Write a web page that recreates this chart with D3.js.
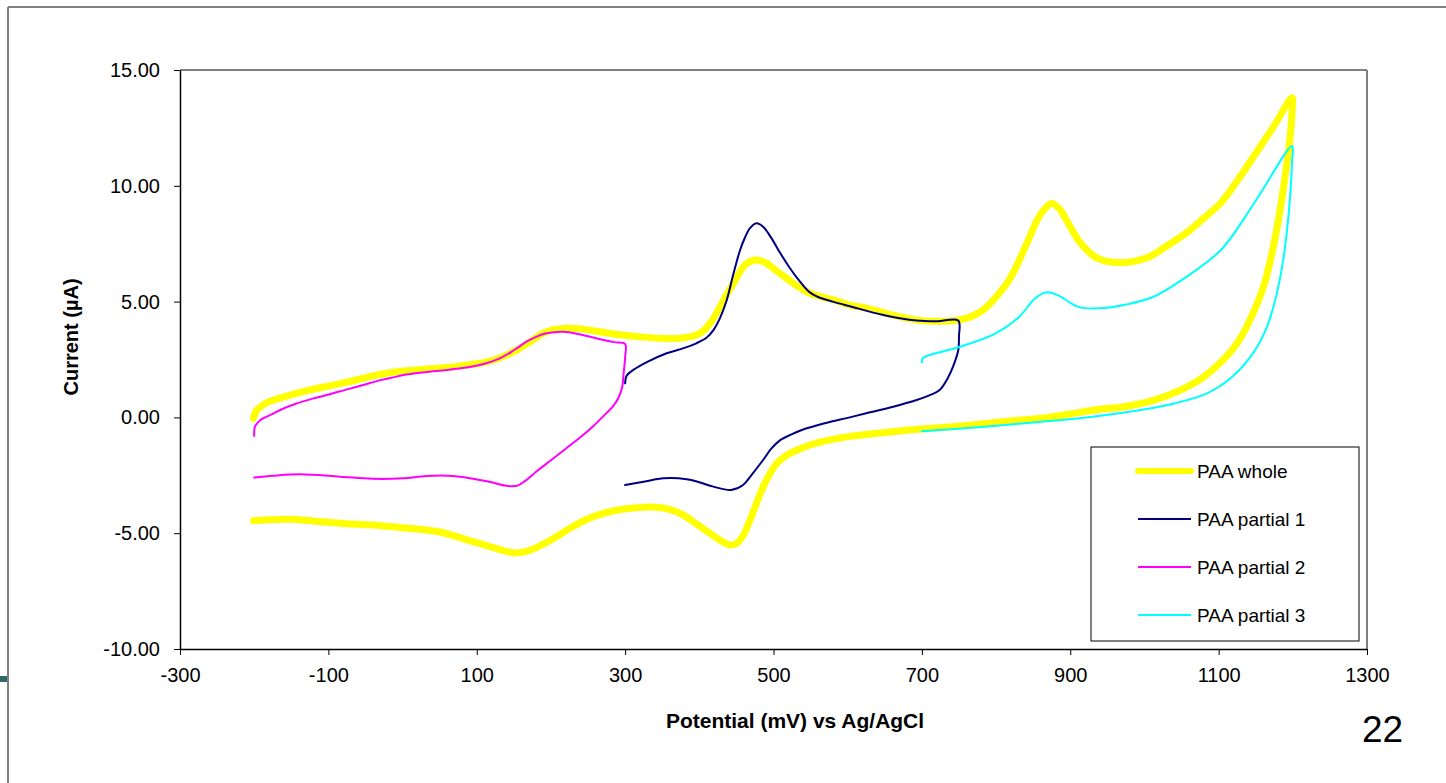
<!DOCTYPE html>
<html>
<head>
<meta charset="utf-8">
<script src="https://cdn.jsdelivr.net/npm/d3@7"></script>
<style>
body { margin: 0; background: #fff; }
svg { display: block; font-family: Arial, "Liberation Sans", sans-serif; }
</style>
</head>
<body>
<div id="chart"></div>
<script>
// tick values
var xTicks = [-300, -100, 100, 300, 500, 700, 900, 1100, 1300];
var yTicks = [-10, -5, 0, 5, 10, 15];

var seriesNames = ["PAA whole", "PAA partial 1", "PAA partial 2", "PAA partial 3"];

// [potential mV, current uA]
var paaWhole = [
    [-201, -0.04], [-198, 0.25], [-194, 0.39], [-185, 0.6], [-174, 0.75], [-143, 1.04],
    [-120, 1.22], [-98, 1.36], [-75, 1.52], [-53, 1.69], [-30, 1.85], [1, 2.0], [30, 2.08],
    [60, 2.15], [85, 2.25], [104, 2.33], [125, 2.5], [140, 2.69], [156, 2.95], [172, 3.27],
    [194, 3.7], [221, 3.85], [245, 3.8], [266, 3.7], [290, 3.58], [320, 3.48], [345, 3.42],
    [370, 3.41], [390, 3.5], [401, 3.63], [413, 4.0], [423, 4.49], [435, 5.2], [446, 5.79],
    [455, 6.3], [464, 6.65], [477, 6.8], [491, 6.65], [505, 6.3], [518, 6.0], [533, 5.65],
    [549, 5.36], [565, 5.2], [581, 5.07], [603, 4.85], [626, 4.71], [670, 4.35], [694, 4.2],
    [715, 4.15], [749, 4.2], [770, 4.4], [785, 4.7], [800, 5.2], [817, 5.9], [830, 6.7],
    [844, 7.7], [855, 8.5], [863, 8.9], [874, 9.23], [885, 9.02], [897, 8.4], [913, 7.56],
    [935, 6.9], [967, 6.68], [1004, 6.9], [1030, 7.4], [1058, 8.0], [1080, 8.6], [1104, 9.3],
    [1127, 10.3], [1149, 11.35], [1175, 12.6], [1199, 13.8],
    [1199, 13.2], [1196, 12.0], [1190, 10.5], [1182, 8.8], [1172, 7.1], [1160, 5.6],
    [1145, 4.4], [1127, 3.3], [1105, 2.45], [1080, 1.75], [1050, 1.2], [1013, 0.75],
    [970, 0.45], [940, 0.35], [900, 0.15], [870, 0.0], [831, -0.12], [805, -0.2],
    [750, -0.38], [700, -0.5], [650, -0.65], [603, -0.82], [576, -0.97], [550, -1.18],
    [531, -1.42], [517, -1.65], [504, -2.0], [493, -2.55], [482, -3.3], [470, -4.3],
    [459, -5.1], [450, -5.45], [441, -5.51], [428, -5.3], [414, -5.0], [396, -4.6],
    [378, -4.21], [360, -3.97], [342, -3.88], [325, -3.88], [305, -3.93], [285, -4.03],
    [265, -4.2], [245, -4.45], [225, -4.8], [205, -5.2], [185, -5.55], [168, -5.77],
    [150, -5.85], [130, -5.7], [110, -5.5], [90, -5.32], [70, -5.12], [50, -4.95],
    [20, -4.82], [-4, -4.75], [-40, -4.65], [-84, -4.57], [-120, -4.47], [-152, -4.4],
    [-180, -4.42], [-201, -4.46]
];

var paaPartial1 = [
    [300, 1.47], [302, 1.8], [311, 2.05], [330, 2.4], [356, 2.77], [380, 3.0], [396, 3.2],
    [410, 3.45], [419, 3.77], [428, 4.3], [437, 5.07], [446, 6.2], [455, 7.23], [462, 7.8],
    [468, 8.16], [477, 8.38], [486, 8.23], [497, 7.75], [509, 7.1], [522, 6.45], [536, 5.85],
    [548, 5.42], [560, 5.2], [580, 5.0], [603, 4.8], [648, 4.42], [693, 4.18], [720, 4.15],
    [749, 4.18], [750, 3.5], [749, 2.9], [742, 2.19], [735, 1.7], [724, 1.18], [710, 0.95],
    [693, 0.75], [660, 0.45], [625, 0.18], [600, -0.02], [576, -0.2], [558, -0.35],
    [540, -0.52], [525, -0.72], [509, -0.98], [497, -1.35], [486, -1.84], [470, -2.5],
    [459, -2.92], [443, -3.13], [419, -2.99], [400, -2.8], [383, -2.67], [352, -2.63],
    [325, -2.78], [300, -2.92]
];

var paaPartial2 = [
    [-200, -0.8], [-199, -0.4], [-193, -0.15], [-188, -0.04], [-175, 0.15], [-165, 0.32],
    [-143, 0.6], [-120, 0.82], [-98, 1.0], [-75, 1.21], [-53, 1.4], [-30, 1.61], [-10, 1.75],
    [1, 1.83], [30, 1.95], [60, 2.05], [85, 2.15], [104, 2.26], [131, 2.55], [150, 2.9],
    [167, 3.27], [180, 3.48], [194, 3.63], [216, 3.7], [240, 3.58], [262, 3.41], [285, 3.25],
    [300, 3.17], [300, 2.6], [298, 1.9], [296, 1.3], [291, 0.85], [283, 0.45], [272, 0.1],
    [258, -0.35], [240, -0.85], [220, -1.35], [200, -1.85], [180, -2.35], [165, -2.75],
    [154, -2.95], [140, -2.95], [120, -2.8], [104, -2.7], [68, -2.53], [32, -2.53],
    [0, -2.63], [-40, -2.65], [-84, -2.56], [-138, -2.46], [-174, -2.52], [-200, -2.6]
];

var paaPartial3 = [
    [700, 2.37], [701, 2.55], [708, 2.67], [749, 3.03], [799, 3.62], [831, 4.34], [853, 5.15],
    [869, 5.4], [885, 5.25], [900, 4.95], [913, 4.75], [945, 4.72], [972, 4.85], [1013, 5.22],
    [1058, 6.1], [1104, 7.26], [1149, 9.3], [1199, 11.72],
    [1199, 11.05], [1195, 9.0], [1188, 7.0], [1178, 5.3], [1165, 3.9], [1148, 2.85],
    [1120, 1.8], [1085, 1.05], [1040, 0.6], [1013, 0.42], [922, 0.0], [850, -0.22],
    [785, -0.4], [700, -0.6]
];

var seriesData = [paaWhole, paaPartial1, paaPartial2, paaPartial3];
var seriesColors = ["#ffff00", "#000080", "#ff00ff", "#00ffff"];
var seriesWidths = [7, 2, 2, 2];

var w = 1446, h = 783;
var plotLeft = 180, plotRight = 1367, plotTop = 70, plotBottom = 649;

var svg = d3.select("#chart")
    .append("svg")
    .attr("width", w)
    .attr("height", h);

svg.append("rect").attr("width", w).attr("height", h).attr("fill", "#fff");

// slide frame
svg.append("line").attr("x1", 8).attr("y1", 7).attr("x2", w).attr("y2", 7)
    .attr("stroke", "#808080").attr("stroke-width", 2);
svg.append("line").attr("x1", 8).attr("y1", 7).attr("x2", 8).attr("y2", h)
    .attr("stroke", "#808080").attr("stroke-width", 2);
svg.append("rect").attr("x", 0).attr("y", 676).attr("width", 7).attr("height", 6)
    .attr("fill", "#2f6868");

var x = d3.scaleLinear().domain([-300, 1300]).range([plotLeft, plotRight]);
var y = d3.scaleLinear().domain([-10, 15]).range([plotBottom, plotTop]);

// plot frame (top and right in grey)
svg.append("line").attr("x1", plotLeft).attr("y1", plotTop).attr("x2", plotRight).attr("y2", plotTop)
    .attr("stroke", "#808080").attr("stroke-width", 2);
svg.append("line").attr("x1", plotRight).attr("y1", plotTop).attr("x2", plotRight).attr("y2", plotBottom)
    .attr("stroke", "#808080").attr("stroke-width", 2);

var line = d3.line()
    .x(function(d) { return x(d[0]); })
    .y(function(d) { return y(d[1]); })
    .curve(d3.curveCatmullRom.alpha(0.5));

svg.selectAll("path.series")
    .data(seriesData)
    .enter()
    .append("path")
    .attr("class", "series")
    .attr("d", line)
    .attr("fill", "none")
    .attr("stroke", function(d, i) { return seriesColors[i]; })
    .attr("stroke-width", function(d, i) { return seriesWidths[i]; })
    .attr("stroke-linecap", "round")
    .attr("stroke-linejoin", "round");

// axes
var yAxis = d3.axisLeft(y)
    .tickValues(yTicks)
    .tickSize(6)
    .tickSizeOuter(0)
    .tickPadding(14)
    .tickFormat(function(d) { return d.toFixed(2); });

var xAxis = d3.axisBottom(x)
    .tickValues(xTicks)
    .tickSize(6)
    .tickSizeOuter(0)
    .tickPadding(13)
    .tickFormat(function(d) { return String(d); });

var gy = svg.append("g").attr("transform", "translate(" + plotLeft + ",0)").call(yAxis);
var gx = svg.append("g").attr("transform", "translate(0," + plotBottom + ")").call(xAxis);

[gx, gy].forEach(function(g) {
    g.selectAll("text")
        .attr("font-family", "Arial, 'Liberation Sans', sans-serif")
        .attr("font-size", 20)
        .attr("fill", "#000");
    g.selectAll("line").attr("stroke", "#000");
    g.select(".domain").attr("stroke", "#000").attr("stroke-width", 1.5);
});

// axis titles
svg.append("text")
    .attr("x", 795)
    .attr("y", 728)
    .attr("text-anchor", "middle")
    .attr("font-size", 21)
    .attr("font-weight", "bold")
    .text("Potential (mV) vs Ag/AgCl");

svg.append("text")
    .attr("transform", "translate(78,337) rotate(-90)")
    .attr("text-anchor", "middle")
    .attr("font-size", 20)
    .attr("font-weight", "bold")
    .text("Current (\u00b5A)");

// legend
var legend = svg.append("g");
legend.append("rect")
    .attr("x", 1091).attr("y", 447)
    .attr("width", 268).attr("height", 194)
    .attr("fill", "#fff")
    .attr("stroke", "#000")
    .attr("stroke-width", 1);

var items = legend.selectAll("g.item")
    .data(seriesNames)
    .enter()
    .append("g")
    .attr("class", "item")
    .attr("transform", function(d, i) { return "translate(0," + (471 + i * 48) + ")"; });

items.append("line")
    .attr("x1", 1138).attr("x2", 1191)
    .attr("y1", 0).attr("y2", 0)
    .attr("stroke", function(d, i) { return seriesColors[i]; })
    .attr("stroke-width", function(d, i) { return i == 0 ? 6 : 2; })
    .attr("stroke-linecap", function(d, i) { return i == 0 ? "round" : "butt"; });

items.append("text")
    .attr("x", 1197)
    .attr("dy", "0.35em")
    .attr("font-size", 19)
    .text(function(d) { return d; });

// slide number
svg.append("text")
    .attr("x", 1362)
    .attr("y", 742)
    .attr("font-size", 37)
    .text("22");
</script>
</body>
</html>
